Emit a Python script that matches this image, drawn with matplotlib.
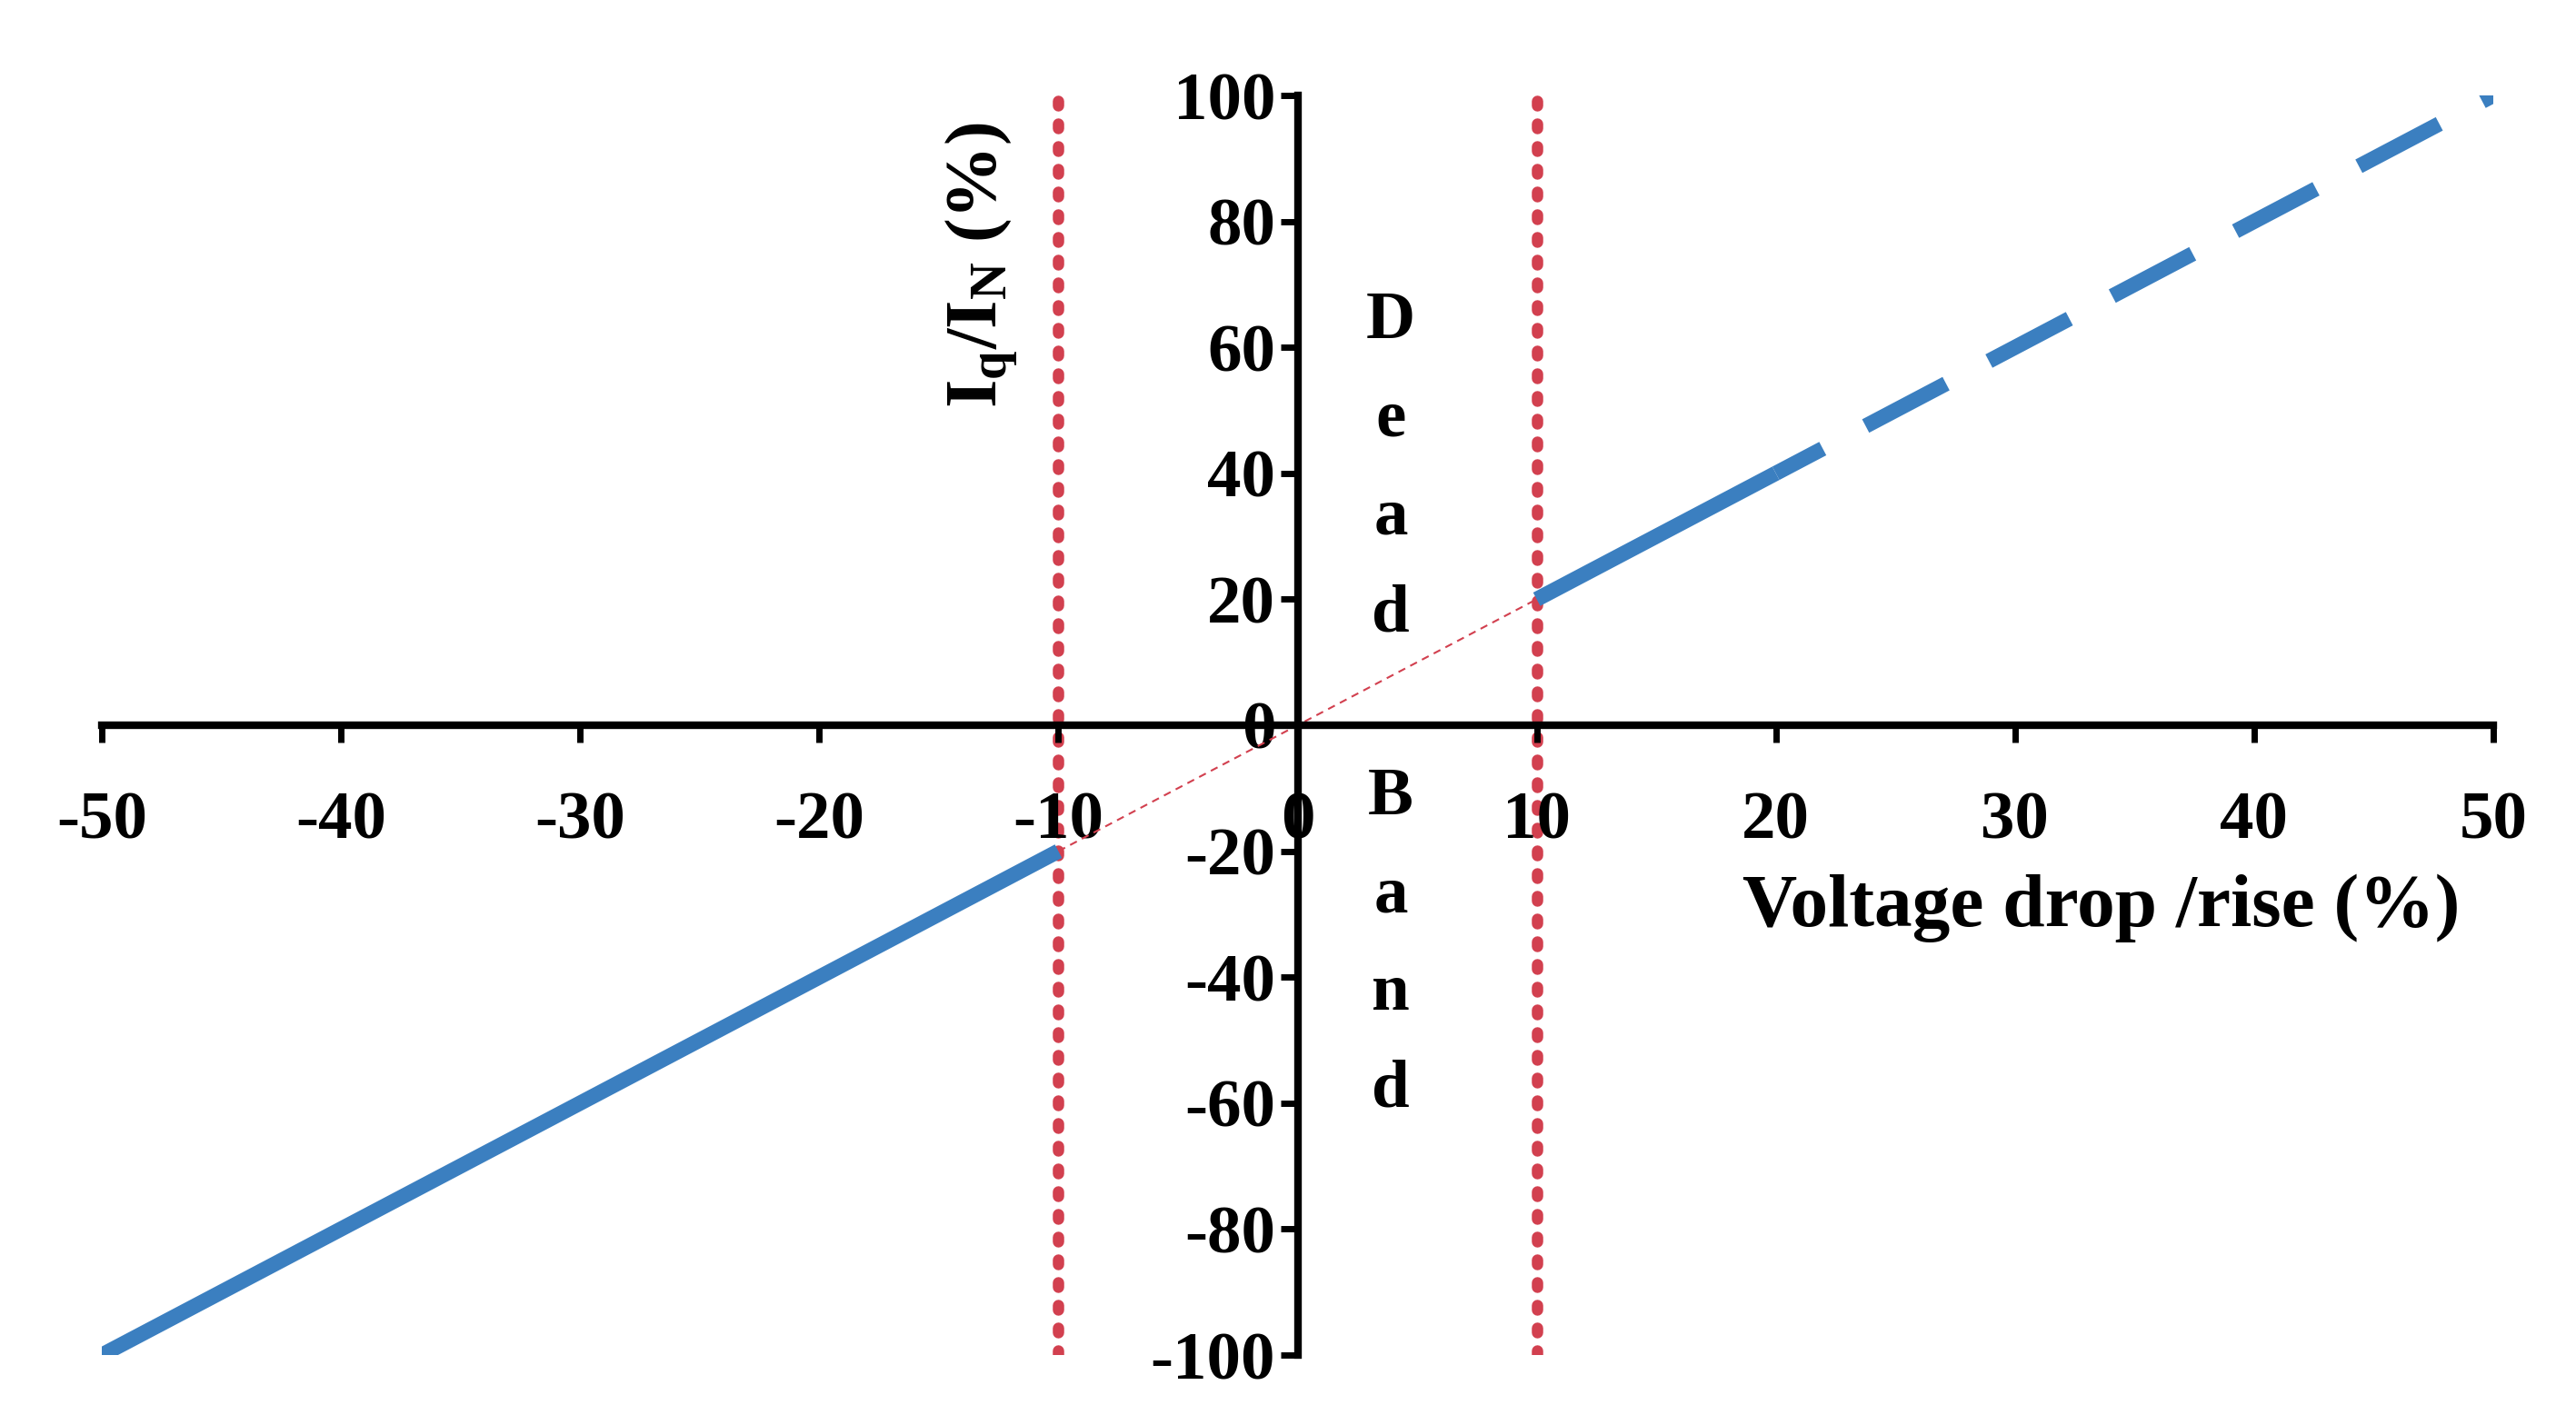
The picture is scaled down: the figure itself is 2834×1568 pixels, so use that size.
import matplotlib
matplotlib.use("Agg")
import matplotlib.pyplot as plt

seg1_x = [-50, -10]; seg1_y = [-100, -20]
seg2_x = [10, 20]; seg2_y = [20, 40]
seg3_x = [20, 50]; seg3_y = [40, 100]
dead_x = [-10, 10]; dead_y = [-20, 20]
band_edges = [-10, 10]
xticks = [-50, -40, -30, -20, -10, 0, 10, 20, 30, 40, 50]
yticks = [-100, -80, -60, -40, -20, 0, 20, 40, 60, 80, 100]

plt.rcParams['font.family'] = ['Liberation Serif', 'DejaVu Serif']
plt.rcParams['font.weight'] = 'bold'
plt.rcParams['axes.unicode_minus'] = False
plt.rcParams['mathtext.fontset'] = 'custom'
plt.rcParams['mathtext.rm'] = 'Liberation Serif:bold'
plt.rcParams['mathtext.it'] = 'Liberation Serif:bold'
plt.rcParams['mathtext.bf'] = 'Liberation Serif:bold'
fig = plt.figure(figsize=(28.34, 15.68), dpi=100)
ax = fig.add_axes([112/2834, 1 - 1491/1568, (2743-112)/2834, (1491-105)/1568])
ax.set_xlim(-50, 50); ax.set_ylim(-100, 100)
blue = '#3b7fc0'; red = '#d2404f'
for xe in band_edges:
    ax.axvline(xe, color=red, lw=9, ls=(0, (0.4, 1.6)), dash_capstyle='round', zorder=1)
ax.plot(dead_x, dead_y, color=red, lw=1.5, ls=(0, (4, 3)), zorder=2)
ax.plot(seg1_x, seg1_y, color=blue, lw=12, solid_capstyle='butt', zorder=3)
ax.plot(seg2_x, seg2_y, color=blue, lw=12, solid_capstyle='butt', zorder=3)
ax.plot(seg3_x, seg3_y, color=blue, lw=12, ls=(2.5, (6, 3.2)), zorder=3)
for s in ['top', 'right']:
    ax.spines[s].set_visible(False)
for s in ['left', 'bottom']:
    ax.spines[s].set_position(('data', 0))
    ax.spines[s].set_linewidth(6)
ax.set_xticks(xticks); ax.set_yticks(yticks)
ax.tick_params(width=5, length=14, labelsize=54, direction='out')
ax.tick_params(axis='x', pad=38)
for lab in ax.get_xticklabels() + ax.get_yticklabels():
    lab.set_fontweight('bold')
for i, ch in enumerate("Dead"):
    ax.text(3.9, 64 - 15.5 * i, ch, fontsize=54, fontweight='bold', ha='center', va='center')
for i, ch in enumerate("Band"):
    ax.text(3.9, -11.5 - 15.5 * i, ch, fontsize=54, fontweight='bold', ha='center', va='center')
ax.text(-13.2, 73, r'$\mathrm{I_q/I_N}$ (%)', fontsize=58, fontweight='bold', rotation=90, ha='center', va='center')
ax.text(33.6, -29, 'Voltage drop /rise (%)', fontsize=60, fontweight='bold', ha='center', va='center')
fig.savefig('out.png', dpi=100)
